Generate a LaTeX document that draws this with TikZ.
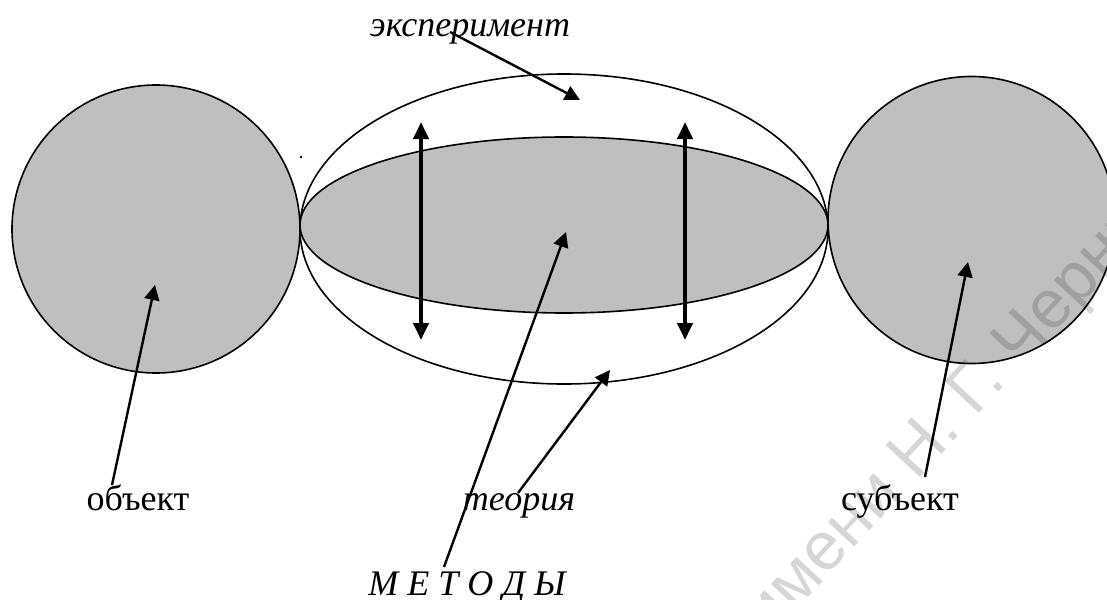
\documentclass[tikz,border=0pt]{standalone}
\usepackage{fontspec}
\setmainfont{Liberation Serif}
\newfontfamily\wmfont{Liberation Sans}
\usetikzlibrary{arrows.meta}
\definecolor{mygray}{rgb}{0.75,0.75,0.75}
\definecolor{mywatermark}{rgb}{0.84,0.84,0.84}

\begin{document}
\begin{tikzpicture}[x=1pt,y=-1pt,
  outline/.style={draw=black,line width=1.6pt},
  pointer/.style={line width=2.4pt,-{Triangle[length=15pt,width=15pt]}},
  twoway/.style={line width=4pt,{Triangle[length=17pt,width=15pt]}-{Triangle[length=17pt,width=15pt]}},
  lbl/.style={font=\fontsize{36}{40}\selectfont,inner sep=0pt,anchor=base},
  lblit/.style={lbl,font=\fontsize{36}{40}\selectfont\itshape}]
  \useasboundingbox (0,0) rectangle (1107,599);
  % methods: outer and inner ellipse
  \draw[outline] (564,229) ellipse (264 and 155);
  \filldraw[outline,fill=mygray] (564,225) ellipse (264 and 88);
  % object and subject
  \filldraw[outline,fill=mygray] (156,229) circle (144);
  \filldraw[outline,fill=mygray] (971.5,220) circle (143.5);
  \fill (301,157) circle (1.3);
  % watermark over the fills
  \begin{scope}[blend mode=multiply]
    \node[font=\wmfont\fontsize{68}{72}\selectfont,text=mywatermark,rotate=47,anchor=base west,inner sep=0pt] (wmark) at (768,640) {имени Н. Г. Чернышевского};
  \end{scope}
  % two-way arrows
  \coordinate (lefttop) at (421,122);
  \coordinate (leftbot) at (421,340);
  \coordinate (righttop) at (685,122);
  \coordinate (rightbot) at (685,340);
  \draw[twoway] (lefttop) -- (leftbot);
  \draw[twoway] (righttop) -- (rightbot);
  % labels
  \node[lblit] (exper) at (470,37) {эксперимент};
  \node[lbl] (obj) at (138,510) {объект};
  \node[lblit] (theory) at (519,510) {теория};
  \node[lbl] (subj) at (900,510) {субъект};
  \node[lblit] (methods) at (467,595) {М Е Т О Д Ы};
  % pointers
  \coordinate (expertail) at (450,32);
  \coordinate (experhead) at (580,100);
  \coordinate (objtail) at (112,485);
  \coordinate (objhead) at (155,285);
  \coordinate (theorytail) at (518,493);
  \coordinate (theoryhead) at (610,370);
  \coordinate (methodstail) at (444,567);
  \coordinate (methodshead) at (566,232);
  \coordinate (subjtail) at (925,477);
  \coordinate (subjhead) at (968,262);
  \draw[pointer] (expertail) -- (experhead);
  \draw[pointer] (objtail) -- (objhead);
  \draw[pointer] (theorytail) -- (theoryhead);
  \draw[pointer] (methodstail) -- (methodshead);
  \draw[pointer] (subjtail) -- (subjhead);
\end{tikzpicture}
\end{document}
